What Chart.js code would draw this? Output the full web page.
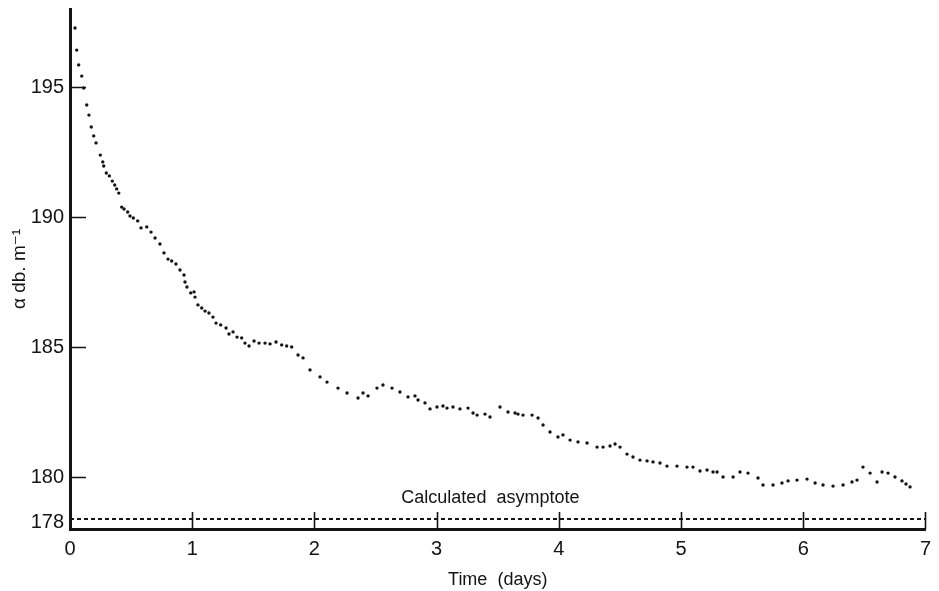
<!DOCTYPE html>
<html>
<head>
<meta charset="utf-8">
<script src="https://cdn.jsdelivr.net/npm/chart.js@4.4.1/dist/chart.umd.min.js"></script>
<style>
  html, body { margin: 0; padding: 0; background: #fff; }
  canvas { display: block; }
</style>
</head>
<body>
<canvas id="attenuationChart" width="939" height="591"></canvas>

<script>
// time since start, days
var days = [
    0.041, 0.055, 0.071, 0.096, 0.112, 0.137, 0.155, 0.174, 0.194, 0.213,
    0.248, 0.268, 0.276, 0.297, 0.322, 0.346, 0.366, 0.382, 0.399, 0.423,
    0.442, 0.472, 0.491, 0.518, 0.554, 0.581, 0.628, 0.663, 0.696, 0.736,
    0.769, 0.802, 0.832, 0.867, 0.900, 0.933, 0.941, 0.957, 0.988, 1.015,
    1.023, 1.047, 1.078, 1.105, 1.137, 1.170, 1.195, 1.233, 1.277, 1.301,
    1.334, 1.367, 1.405, 1.432, 1.465, 1.506, 1.547, 1.596, 1.637, 1.686,
    1.732, 1.773, 1.814, 1.866, 1.907, 1.964, 2.046, 2.103, 2.193, 2.267,
    2.357, 2.398, 2.439, 2.512, 2.561, 2.635, 2.700, 2.766, 2.823, 2.848,
    2.905, 2.946, 3.003, 3.052, 3.085, 3.134, 3.191, 3.257, 3.298, 3.331,
    3.396, 3.437, 3.519, 3.584, 3.642, 3.666, 3.707, 3.781, 3.830, 3.871,
    3.928, 3.993, 4.034, 4.092, 4.157, 4.231, 4.313, 4.362, 4.419, 4.460,
    4.501, 4.558, 4.607, 4.664, 4.722, 4.771, 4.828, 4.885, 4.967, 5.049,
    5.098, 5.155, 5.213, 5.262, 5.295, 5.344, 5.426, 5.483, 5.548, 5.630,
    5.671, 5.753, 5.826, 5.876, 5.949, 6.031, 6.097, 6.162, 6.244, 6.326,
    6.399, 6.440, 6.489, 6.547, 6.604, 6.645, 6.694, 6.751, 6.808, 6.841,
    6.874
];

// attenuation, dB per metre
var alpha = [
    197.27, 196.42, 195.85, 195.42, 194.96, 194.31, 193.92, 193.46, 193.12, 192.85,
    192.38, 192.12, 191.96, 191.69, 191.58, 191.38, 191.23, 191.08, 190.92, 190.38,
    190.31, 190.19, 190.04, 189.96, 189.85, 189.58, 189.62, 189.42, 189.19, 188.96,
    188.62, 188.38, 188.31, 188.19, 187.96, 187.77, 187.50, 187.31, 187.08, 187.12,
    186.92, 186.62, 186.50, 186.38, 186.31, 186.15, 185.92, 185.85, 185.73, 185.50,
    185.58, 185.38, 185.35, 185.15, 185.04, 185.23, 185.15, 185.15, 185.12, 185.19,
    185.08, 185.04, 185.00, 184.69, 184.58, 184.12, 183.85, 183.65, 183.42, 183.23,
    183.04, 183.23, 183.12, 183.42, 183.54, 183.42, 183.27, 183.08, 183.12, 182.96,
    182.85, 182.62, 182.69, 182.73, 182.65, 182.69, 182.62, 182.65, 182.46, 182.38,
    182.42, 182.31, 182.69, 182.50, 182.46, 182.42, 182.38, 182.38, 182.27, 182.00,
    181.73, 181.54, 181.62, 181.42, 181.35, 181.31, 181.15, 181.15, 181.19, 181.27,
    181.15, 180.88, 180.77, 180.65, 180.62, 180.58, 180.54, 180.42, 180.42, 180.38,
    180.38, 180.23, 180.27, 180.19, 180.19, 180.00, 180.00, 180.19, 180.15, 179.96,
    179.69, 179.69, 179.77, 179.85, 179.88, 179.92, 179.77, 179.69, 179.65, 179.69,
    179.81, 179.88, 180.38, 180.15, 179.81, 180.19, 180.15, 180.00, 179.85, 179.73,
    179.62
];

var asymptote = 178.38;
var xTickValues = [0, 1, 2, 3, 4, 5, 6, 7];
var yTickValues = [178, 180, 185, 190, 195];

var INK = '#141414';
var FONT = "'Liberation Sans', 'DejaVu Sans', sans-serif";

// small tick marks drawn inward from both axes, plus the free-standing labels
var annotate = {
    id: 'annotate',
    afterDraw: function(chart) {
        var ctx = chart.ctx;
        var xs = chart.scales.x;
        var ys = chart.scales.y;
        var area = chart.chartArea;

        ctx.save();
        ctx.strokeStyle = INK;
        ctx.lineWidth = 1.6;
        ctx.beginPath();
        yTickValues.forEach(function(v) {
            if (v === ys.min) return;
            var py = Math.round(ys.getPixelForValue(v)) + 0.5;
            ctx.moveTo(area.left, py);
            ctx.lineTo(area.left + 16, py);
        });
        xTickValues.forEach(function(v) {
            if (v === xs.min) return;
            var px = Math.round(xs.getPixelForValue(v)) + 0.5;
            ctx.moveTo(px, area.bottom);
            ctx.lineTo(px, area.bottom - 17);
        });
        ctx.stroke();

        ctx.fillStyle = INK;
        ctx.textBaseline = 'middle';

        // the bottom value sits level with the asymptote rather than the axis
        ctx.textAlign = 'right';
        ctx.font = '20px ' + FONT;
        ctx.fillText(String(ys.min), area.left - 6, ys.getPixelForValue(asymptote) + 3);

        ctx.textAlign = 'center';
        ctx.font = '18px ' + FONT;
        ctx.fillText('Calculated  asymptote', xs.getPixelForValue(3.44), ys.getPixelForValue(asymptote) - 21);
        ctx.restore();
    }
};

var config = {
    type: 'scatter',
    data: {
        datasets: [
            {
                label: 'alpha',
                data: days.map(function(d, i) { return { x: d, y: alpha[i] }; }),
                showLine: false,
                pointRadius: 1.7,
                pointBorderWidth: 0,
                pointBackgroundColor: INK
            },
            {
                label: 'asymptote',
                data: [{ x: 0, y: asymptote }, { x: 7, y: asymptote }],
                showLine: true,
                borderColor: INK,
                borderWidth: 2,
                borderDash: [4, 3],
                pointRadius: 0
            }
        ]
    },
    options: {
        responsive: false,
        animation: false,
        layout: {
            padding: { top: 9, right: 13, left: 0, bottom: 0 }
        },
        scales: {
            x: {
                type: 'linear',
                min: 0,
                max: 7,
                afterBuildTicks: function(scale) {
                    scale.ticks = xTickValues.map(function(v) { return { value: v }; });
                },
                afterFit: function(scale) { scale.height = 62; },
                grid: { display: false, drawTicks: false },
                border: { display: true, color: INK, width: 3 },
                ticks: {
                    color: INK,
                    padding: 8,
                    maxRotation: 0,
                    font: { family: FONT, size: 20 }
                },
                title: {
                    display: true,
                    text: 'Time  (days)',
                    color: INK,
                    padding: { top: 4, bottom: 0 },
                    font: { family: FONT, size: 18 }
                }
            },
            y: {
                type: 'linear',
                min: 178,
                max: 198,
                afterBuildTicks: function(scale) {
                    scale.ticks = yTickValues.map(function(v) { return { value: v }; });
                },
                afterFit: function(scale) {
                    scale.width = 70;
                    // no extra room needed above the top tick label
                    scale.paddingTop = 0;
                    scale.paddingBottom = 0;
                },
                grid: { display: false, drawTicks: false },
                border: { display: true, color: INK, width: 3 },
                ticks: {
                    color: INK,
                    padding: 6,
                    font: { family: FONT, size: 20 },
                    callback: function(v) { return v === 178 ? '' : String(v); }
                },
                title: {
                    display: true,
                    text: 'α db. m⁻¹',
                    color: INK,
                    padding: { top: 8, bottom: 2 },
                    font: { family: FONT, size: 19 }
                }
            }
        },
        plugins: {
            legend: { display: false },
            tooltip: { enabled: false }
        }
    },
    plugins: [annotate]
};

new Chart(document.getElementById('attenuationChart').getContext('2d'), config);
</script>
</body>
</html>
